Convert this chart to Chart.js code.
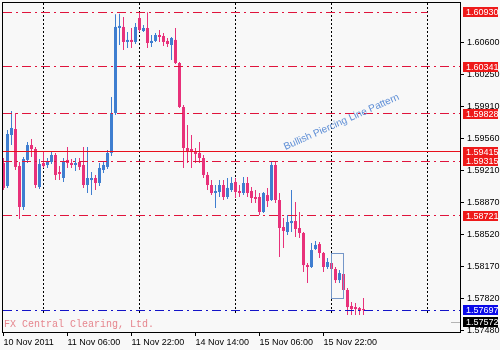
<!DOCTYPE html>
<html lang="en">
<head>
<meta charset="UTF-8" />
<title>GBPUSD H1</title>
<style>
  html, body { margin: 0; padding: 0; background: #f8f8f8; }
  #wrap { width: 500px; height: 350px; }
</style>
</head>
<body>
<div id="wrap"><canvas id="chart" width="500" height="350"></canvas></div>
<script src="https://cdn.jsdelivr.net/npm/chart.js"></script>
<script>
// H1 candles, 10 Nov 2011 14:00 -> 16 Nov 2011 08:00
const opens = [
  1.59294, 1.59044, 1.59598, 1.59663, 1.59261, 1.58816, 1.59327, 1.59489, 1.59446, 1.59033,
  1.59294, 1.59272, 1.59305, 1.59381, 1.59196, 1.59131, 1.59327, 1.59294, 1.59272, 1.59305,
  1.59272, 1.59055, 1.59109, 1.59131, 1.59077, 1.59218, 1.59251, 1.59403, 1.59837, 1.60760,
  1.60771, 1.60608, 1.60630, 1.60608, 1.60868, 1.60727, 1.60760, 1.60597, 1.60619, 1.60684,
  1.60673, 1.60619, 1.60575, 1.60630, 1.60380, 1.59902, 1.59457, 1.59446, 1.59424, 1.59403,
  1.59348, 1.59164, 1.59055, 1.58968, 1.58979, 1.59055, 1.58925, 1.59001, 1.59088, 1.58990,
  1.58968, 1.59077, 1.58990, 1.58925, 1.58925, 1.58762, 1.58946, 1.58892, 1.59272, 1.58892,
  1.58599, 1.58545, 1.58642, 1.58664, 1.58588, 1.58534, 1.58186, 1.58165, 1.58360, 1.58414,
  1.58317, 1.58165, 1.58208, 1.58143, 1.58023, 1.58089, 1.57915, 1.57741, 1.57730, 1.57719,
  1.57709
];
const highs = [
  1.59348, 1.59652, 1.59859, 1.59837, 1.59305, 1.59359, 1.59522, 1.59555, 1.59468, 1.59337,
  1.59413, 1.59348, 1.59413, 1.59403, 1.59261, 1.59348, 1.59468, 1.59337, 1.59348, 1.59348,
  1.59468, 1.59468, 1.59196, 1.59164, 1.59294, 1.59305, 1.59435, 1.60011, 1.60910, 1.60915,
  1.60879, 1.60717, 1.60760, 1.60814, 1.60923, 1.60793, 1.60930, 1.60684, 1.60706, 1.60738,
  1.60706, 1.60651, 1.60662, 1.60760, 1.60391, 1.59924, 1.59707, 1.59598, 1.59457, 1.59522,
  1.59381, 1.59196, 1.59109, 1.59055, 1.59109, 1.59109, 1.59131, 1.59142, 1.59131, 1.59055,
  1.59142, 1.59142, 1.59033, 1.59001, 1.58968, 1.58979, 1.59023, 1.59305, 1.59305, 1.58968,
  1.58697, 1.58729, 1.59001, 1.58870, 1.58762, 1.58545, 1.58208, 1.58425, 1.58447, 1.58436,
  1.58328, 1.58262, 1.58241, 1.58165, 1.58132, 1.58099, 1.57937, 1.57785, 1.57774, 1.57730,
  1.57828
];
const lows = [
  1.59001, 1.59023, 1.59489, 1.59218, 1.58686, 1.58784, 1.59294, 1.59359, 1.59023, 1.59012,
  1.59240, 1.59240, 1.59283, 1.59109, 1.59109, 1.59088, 1.59240, 1.59240, 1.59207, 1.59218,
  1.59023, 1.58968, 1.58946, 1.59001, 1.59044, 1.59185, 1.59229, 1.59370, 1.59815, 1.60575,
  1.60521, 1.60543, 1.60543, 1.60586, 1.60717, 1.60717, 1.60543, 1.60554, 1.60608, 1.60608,
  1.60564, 1.60554, 1.60412, 1.60369, 1.59891, 1.59240, 1.59294, 1.59240, 1.59294, 1.59294,
  1.59131, 1.59001, 1.58946, 1.58805, 1.58925, 1.58892, 1.58903, 1.58979, 1.58914, 1.58925,
  1.58946, 1.58925, 1.58860, 1.58860, 1.58729, 1.58751, 1.58816, 1.58881, 1.58860, 1.58273,
  1.58371, 1.58512, 1.58545, 1.58490, 1.58480, 1.58110, 1.57991, 1.58154, 1.58349, 1.58262,
  1.58110, 1.58143, 1.58132, 1.57991, 1.57991, 1.57893, 1.57643, 1.57643, 1.57643, 1.57643,
  1.57643
];
const closes = [
  1.59023, 1.59609, 1.59674, 1.59251, 1.58816, 1.59337, 1.59489, 1.59446, 1.59055, 1.59283,
  1.59261, 1.59305, 1.59381, 1.59164, 1.59175, 1.59305, 1.59294, 1.59272, 1.59294, 1.59251,
  1.59055, 1.59131, 1.59131, 1.59077, 1.59240, 1.59272, 1.59403, 1.59837, 1.60771, 1.60782,
  1.60608, 1.60630, 1.60608, 1.60771, 1.60738, 1.60760, 1.60597, 1.60619, 1.60684, 1.60662,
  1.60608, 1.60586, 1.60651, 1.60380, 1.59902, 1.59457, 1.59413, 1.59413, 1.59392, 1.59348,
  1.59164, 1.59055, 1.58968, 1.58990, 1.59055, 1.58925, 1.59023, 1.59077, 1.58979, 1.58968,
  1.59077, 1.58968, 1.58914, 1.58903, 1.58762, 1.58968, 1.58881, 1.59272, 1.58892, 1.58588,
  1.58556, 1.58653, 1.58664, 1.58577, 1.58534, 1.58186, 1.58165, 1.58349, 1.58404, 1.58317,
  1.58165, 1.58219, 1.58143, 1.58023, 1.58099, 1.57915, 1.57730, 1.57709, 1.57709, 1.57687,
  1.57697
];

const xTickBars = [0, 16, 32, 48, 64, 80];
const xTickLabels = ["10 Nov 2011", "11 Nov 06:00", "11 Nov 22:00", "14 Nov 14:00", "15 Nov 06:00", "15 Nov 22:00"];
const dayBars = [10, 34, 58, 82, 106];
const yTicks = [1.60600, 1.60250, 1.59910, 1.59560, 1.59210, 1.58870, 1.58520, 1.58170, 1.57820, 1.57480];

const levels = [1.60930, 1.60341, 1.59828, 1.59415, 1.59315, 1.58721, 1.57697];
const bidPrice = 1.57572;
const patternBox = { from: 82, to: 85, top: 1.58317, bottom: 1.57828 };
const patternText = "Bullish Piercing Line Pattern";
const patternAnchor = { bar: 70.5, price: 1.59435 };
const watermark = "FX Central Clearing, Ltd.";

const BULL = "#3f7ed0", BEAR = "#e8317a";
const RED = "#e0143c", BLUE = "#1414c8";
// style per level: dash-dot or solid, colour of line and of price box, last bar drawn
const levelStyle = [
  { dash: true, line: RED, box: "#ee1a1a", end: 106 },
  { dash: true, line: RED, box: "#ee1a1a" },
  { dash: true, line: RED, box: "#ee1a1a" },
  { dash: false, line: "#e8101c", box: "#ee1a1a" },
  { dash: true, line: RED, box: "#ee1a1a" },
  { dash: true, line: RED, box: "#ee1a1a" },
  { dash: true, line: BLUE, box: "#0a0ae8" },
];

const FONT = "'Liberation Sans', Arial, sans-serif";
const idx = opens.map((_, i) => i);
const colors = idx.map(i => (closes[i] >= opens[i] ? BULL : BEAR));

const mt4 = {
  id: "mt4",
  beforeDraw(chart) {
    const c = chart.ctx;
    c.save();
    c.fillStyle = "#f8f8f8";
    c.fillRect(0, 0, chart.width, chart.height);
    c.restore();
  },
  beforeDatasetsDraw(chart) {
    const c = chart.ctx, xs = chart.scales.x, a = chart.chartArea;
    c.save();
    c.strokeStyle = "#000";
    c.lineWidth = 1;
    c.setLineDash([2, 2]);
    dayBars.forEach(b => {
      const px = Math.round(xs.getPixelForValue(b) - 0.5) + 0.5;
      c.beginPath();
      c.moveTo(px, a.top + 1);
      c.lineTo(px, a.bottom - 17);
      c.stroke();
    });
    c.restore();
  },
  afterDatasetsDraw(chart) {
    const c = chart.ctx, xs = chart.scales.x, ys = chart.scales.y, a = chart.chartArea;
    c.save();
    c.lineWidth = 1;
    levels.forEach((p, k) => {
      const st = levelStyle[k];
      const py = Math.round(ys.getPixelForValue(p) - 0.5) + 0.5;
      const x1 = st.end !== undefined ? xs.getPixelForValue(st.end) : a.right;
      c.strokeStyle = st.line;
      c.setLineDash(st.dash ? [9, 4, 2, 4] : []);
      c.beginPath();
      c.moveTo(a.left + 1, py);
      c.lineTo(x1, py);
      c.stroke();
    });
    c.setLineDash([]);

    // pattern rectangle
    const rx0 = Math.round(xs.getPixelForValue(patternBox.from) - 0.5) + 0.5;
    const rx1 = Math.round(xs.getPixelForValue(patternBox.to) - 0.5) + 0.5;
    const ry0 = Math.round(ys.getPixelForValue(patternBox.top)) + 0.5;
    const ry1 = Math.round(ys.getPixelForValue(patternBox.bottom)) + 0.5;
    c.strokeStyle = "#7496c8";
    c.strokeRect(rx0, ry0, rx1 - rx0, ry1 - ry0);

    // pattern caption
    c.save();
    c.translate(xs.getPixelForValue(patternAnchor.bar), ys.getPixelForValue(patternAnchor.price));
    c.rotate(-24 * Math.PI / 180);
    c.fillStyle = "#5f8fd6";
    c.font = "10px " + FONT;
    c.textBaseline = "alphabetic";
    c.fillText(patternText, 0, 0);
    c.restore();

    c.fillStyle = "#e6868e";
    c.font = "10px 'Liberation Mono', 'DejaVu Sans Mono', monospace";
    c.textBaseline = "alphabetic";
    c.fillText(watermark, a.left + 2, a.bottom - 5);

    c.strokeStyle = "#000";
    c.strokeRect(a.left + 0.5, a.top + 0.5, a.right - a.left, a.bottom - a.top);
    c.restore();
  },
  afterDraw(chart) {
    const c = chart.ctx, ys = chart.scales.y, a = chart.chartArea;
    c.save();
    c.font = "9px " + FONT;
    c.textBaseline = "middle";
    const box = (p, bg) => {
      const py = Math.round(ys.getPixelForValue(p));
      c.fillStyle = bg;
      c.fillRect(a.right + 3, py - 5, 35, 10);
      c.fillStyle = "#fff";
      c.fillText(p.toFixed(5), a.right + 6, py + 0.5);
    };
    levels.forEach((p, k) => box(p, levelStyle[k].box));
    const by = Math.round(ys.getPixelForValue(bidPrice)) + 0.5;
    c.strokeStyle = "#b4b4b4";
    c.beginPath();
    c.moveTo(a.right - 9, by);
    c.lineTo(a.right, by);
    c.stroke();
    box(bidPrice, "#000");
    c.restore();
  }
};

const ctx = document.getElementById("chart").getContext("2d");
new Chart(ctx, {
  type: "bar",
  data: {
    datasets: [
      {
        label: "body",
        data: idx.map(i => ({ x: i, y: [opens[i], closes[i]] })),
        backgroundColor: colors,
        grouped: false,
        barThickness: 3,
        maxBarThickness: 3,
        minBarLength: 1,
        inflateAmount: 0,
        order: 1
      },
      {
        label: "wick",
        data: idx.map(i => ({ x: i, y: [lows[i], highs[i]] })),
        backgroundColor: colors,
        grouped: false,
        barThickness: 1,
        maxBarThickness: 1,
        minBarLength: 1,
        inflateAmount: 0,
        order: 2
      }
    ]
  },
  options: {
    responsive: false,
    animation: false,
    devicePixelRatio: 1,
    layout: { padding: { left: 2, top: 2, right: 0, bottom: 0 } },
    plugins: { legend: { display: false }, tooltip: { enabled: false } },
    scales: {
      x: {
        type: "linear",
        min: -0.375,
        max: 114.125,
        offset: false,
        bounds: "data",
        afterBuildTicks: s => { s.ticks = xTickBars.map(v => ({ value: v })); },
        afterFit: s => { s.height = 18; s.paddingLeft = 0; s.paddingRight = 0; },
        grid: { offset: false, drawOnChartArea: false, drawTicks: true, tickLength: 4, color: "#000", tickColor: "#000" },
        border: { display: false },
        ticks: {
          autoSkip: false,
          maxRotation: 0,
          minRotation: 0,
          align: "start",
          padding: 1,
          color: "#000",
          font: { family: FONT, size: 9 },
          callback: (v, k) => xTickLabels[k]
        }
      },
      y: {
        type: "linear",
        position: "right",
        min: 1.57459,
        max: 1.61042,
        beginAtZero: false,
        bounds: "data",
        afterBuildTicks: s => { s.ticks = yTicks.map(v => ({ value: v })); },
        afterFit: s => { s.width = 40; s.paddingTop = 0; s.paddingBottom = 0; },
        grid: { drawOnChartArea: false, drawTicks: true, tickLength: 4, color: "#000", tickColor: "#000" },
        border: { display: false },
        ticks: {
          autoSkip: false,
          padding: 3,
          color: "#000",
          font: { family: FONT, size: 9 },
          callback: v => v.toFixed(5)
        }
      }
    }
  },
  plugins: [mt4]
});
</script>
</body>
</html>
